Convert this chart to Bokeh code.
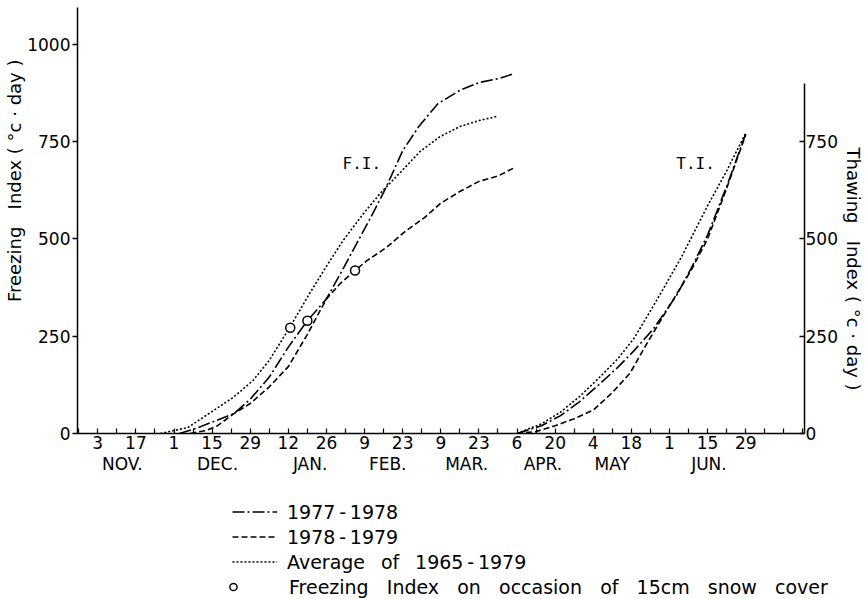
from bokeh.plotting import figure
from bokeh.layouts import column
from bokeh.models import (Range1d, LinearAxis, FixedTicker, Label, Legend, LegendItem, Title)
from bokeh.embed import file_html
from bokeh.resources import INLINE

# ---- data (x = days since 1 November) ----
fi_7778_day = [32, 38, 45, 52, 58, 65, 72, 79, 86, 92, 98, 103, 107, 110, 114, 120, 127, 135, 142, 149, 155]
fi_7778_val = [0, 13, 32, 51, 88, 145, 222, 290, 346, 422, 500, 565, 620, 665, 727, 790, 848, 882, 902, 912, 925]

fi_7879_day = [36, 42, 46, 52, 58, 65, 72, 79, 86, 91, 96.5, 101, 108, 115, 122, 128, 135, 142, 149, 155]
fi_7879_val = [0, 8, 20, 51, 77, 120, 172, 255, 346, 385, 419, 445, 478, 520, 555, 592, 622, 648, 662, 683]

fi_avg_day = [25, 35, 44.5, 51.8, 59, 65, 72.7, 80, 86, 92, 99, 105.7, 113, 120.4, 127.7, 135, 142.4, 148.6]
fi_avg_val = [0, 15, 59, 93, 136, 188, 275, 362, 430, 495, 560, 617, 670, 725, 763, 789, 805, 815]

snow_day = [72.7, 79, 96.5]
snow_val = [272, 290, 419]

ti_7778_day = [156, 165, 172, 179, 186, 193, 199, 206, 214.6, 220, 226, 233, 240]
ti_7778_val = [0, 20, 46, 82, 125, 170, 213, 268, 355, 425, 510, 635, 770]

ti_7879_day = [156, 163, 170, 177, 184, 191, 197.5, 204, 210, 214.6, 220, 226, 233, 240]
ti_7879_val = [0, 5, 20, 38, 60, 105, 155, 235, 305, 358, 420, 500, 630, 768]

ti_avg_day = [156, 165, 172, 179, 186, 193, 199, 205, 210, 216.5, 225.6, 233, 240]
ti_avg_val = [0, 25, 55, 95, 142, 192, 245, 315, 375, 455, 580, 675, 772]

day_ticks = list(range(-5, 262, 7))
day_label_pos = [2, 16, 30, 44, 58, 72, 86, 100, 114, 128, 142, 156, 170, 184, 198, 212, 226, 240]
day_labels = ["3", "17", "1", "15", "29", "12", "26", "9", "23", "9", "23", "6", "20", "4", "18", "1", "15", "29"]

month_pos = [11, 46, 80, 108.5, 137.5, 165.5, 191, 226.5]
month_labels = ["NOV.", "DEC.", "JAN.", "FEB.", "MAR.", "APR.", "MAY", "JUN."]

fi_ticks = [0, 250, 500, 750, 1000]
ti_ticks = [0, 250, 500, 750]

SP2 = "\u00a0\u00a0\u2009"
SP3 = "\u00a0\u00a0\u00a0"
legend_labels = [
    "1977\u2009-\u20091978",
    "1978\u2009-\u20091979",
    "Average" + SP2 + "of" + SP2 + "1965\u2009-\u20091979",
]
snow_label = SP3.join(["Freezing", "Index", "on", "occasion", "of", "15cm", "snow", "cover"])
fi_title = "Freezing\u00a0\u00a0\u00a0Index\u00a0(\u00a0°c\u00a0·\u00a0day\u00a0)"
ti_title = "Thawing\u00a0\u00a0\u00a0Index\u00a0(\u00a0°c\u00a0·\u00a0day\u00a0)"

FONT = "DejaVu Sans"
DASH_7778 = "12 3 2 3"
DASH_7879 = "6 3"
DOT = "2 2"
LW = 1.6

p = figure(width=868, height=488, output_backend="svg", toolbar_location=None,
           x_range=Range1d(-5.45, 261.6), y_range=Range1d(0, 1095),
           min_border_left=77, min_border_right=63, min_border_top=7, min_border_bottom=55)
p.extra_y_ranges = {"thaw": Range1d(0, 1095)}
p.outline_line_color = None
p.xgrid.visible = False
p.ygrid.visible = False

# left axis (Freezing index)
ya = p.yaxis[0]
ya.ticker = FixedTicker(ticks=fi_ticks, minor_ticks=[])
ya.major_tick_in = 0
ya.major_tick_out = 5
ya.major_label_standoff = 2
ya.axis_line_width = 1.5
ya.major_tick_line_width = 1.5
ya.major_label_text_font = FONT
ya.major_label_text_font_size = "17px"
ya.major_label_text_color = "black"

# right axis (Thawing index)
ra = LinearAxis(y_range_name="thaw", ticker=FixedTicker(ticks=ti_ticks, minor_ticks=[]),
                bounds=(0, 900))
ra.major_tick_in = 5
ra.major_tick_out = 0
ra.major_label_standoff = 1
ra.axis_line_width = 1.5
ra.major_tick_line_width = 1.5
ra.major_label_text_font = FONT
ra.major_label_text_font_size = "17px"
ra.major_label_text_color = "black"
p.add_layout(ra, "right")

# bottom axis (days)
xa = p.xaxis[0]
xa.ticker = FixedTicker(ticks=day_ticks, minor_ticks=[])
overrides = {t: "" for t in day_ticks}
for pos, lab in zip(day_label_pos, day_labels):
    overrides[pos] = lab
xa.major_label_overrides = overrides
xa.major_tick_in = 5
xa.major_tick_out = 0
xa.major_label_standoff = 2
xa.axis_line_width = 1.5
xa.major_tick_line_width = 1.2
xa.major_label_text_font = FONT
xa.major_label_text_font_size = "17px"
xa.major_label_text_color = "black"

# month axis
ma = LinearAxis(ticker=FixedTicker(ticks=month_pos, minor_ticks=[]),
                major_label_overrides=dict(zip(month_pos, month_labels)))
ma.axis_line_color = None
ma.major_tick_line_color = None
ma.minor_tick_line_color = None
ma.major_label_standoff = -4
ma.major_label_text_font = FONT
ma.major_label_text_font_size = "17px"
ma.major_label_text_color = "black"
p.add_layout(ma, "below")

# axis titles
p.add_layout(Title(text=fi_title, align="right", offset=52, standoff=0,
                   text_font=FONT, text_font_size="18px", text_font_style="normal",
                   text_color="black"), "left")
p.add_layout(Title(text=ti_title, align="left", offset=140, standoff=5,
                   text_font=FONT, text_font_size="18px", text_font_style="normal",
                   text_color="black"), "right")

p.line(fi_7778_day, fi_7778_val, line_color="black", line_width=LW, line_dash=DASH_7778)
p.line(fi_7879_day, fi_7879_val, line_color="black", line_width=LW, line_dash=DASH_7879)
p.line(fi_avg_day, fi_avg_val, line_color="black", line_width=LW, line_dash=DOT)
p.line(ti_7778_day, ti_7778_val, y_range_name="thaw", line_color="black", line_width=LW, line_dash=DASH_7778)
p.line(ti_7879_day, ti_7879_val, y_range_name="thaw", line_color="black", line_width=LW, line_dash=DASH_7879)
p.line(ti_avg_day, ti_avg_val, y_range_name="thaw", line_color="black", line_width=LW, line_dash=DOT)
p.scatter(snow_day, snow_val, marker="circle", size=9, fill_color="white",
          line_color="black", line_width=1.5)

p.add_layout(Label(x=99, y=694, text="F.I.", text_font="DejaVu Sans Mono", text_font_size="16px",
                   text_align="center", text_baseline="middle", text_color="black"))
p.add_layout(Label(x=221.6, y=694, text="T.I.", text_font="DejaVu Sans Mono", text_font_size="16px",
                   text_align="center", text_baseline="middle", text_color="black"))

# ---- legend panel below the chart (series drawn out of view only to feed legend keys) ----
lg = figure(width=868, height=111, output_backend="svg", toolbar_location=None,
            x_range=Range1d(-1000, -999), y_range=Range1d(-1000, -999),
            x_axis_type=None, y_axis_type=None, min_border=0)
lg.frame_align = False
lg.outline_line_color = None
lg.xgrid.visible = False
lg.ygrid.visible = False
k1 = lg.line(fi_7778_day, fi_7778_val, line_color="black", line_width=LW, line_dash=DASH_7778)
k2 = lg.line(fi_7879_day, fi_7879_val, line_color="black", line_width=LW, line_dash=DASH_7879)
k3 = lg.line(fi_avg_day, fi_avg_val, line_color="black", line_width=LW, line_dash=DOT)
k4 = lg.scatter(snow_day, snow_val, marker="circle", size=9, fill_color="white",
                line_color="black", line_width=1.5)


def style_legend(leg, glyph_w, standoff):
    leg.border_line_color = None
    leg.background_fill_alpha = 0
    leg.margin = 0
    leg.padding = 0
    leg.spacing = 0
    leg.glyph_width = glyph_w
    leg.glyph_height = 25
    leg.label_height = 25
    leg.label_standoff = standoff
    leg.label_text_font = FONT
    leg.label_text_font_size = "19px"
    leg.label_text_color = "black"


legend = Legend(items=[LegendItem(label=t, renderers=[r]) for t, r in zip(legend_labels, [k1, k2, k3])],
                location=(232, 25), orientation="vertical")
style_legend(legend, 45, 10)
lg.add_layout(legend)

legend2 = Legend(items=[LegendItem(label=snow_label, renderers=[k4])],
                 location=(224, 0), orientation="vertical")
style_legend(legend2, 18, 47)
lg.add_layout(legend2)

open("out.html", "w").write(file_html(column(p, lg), INLINE))
